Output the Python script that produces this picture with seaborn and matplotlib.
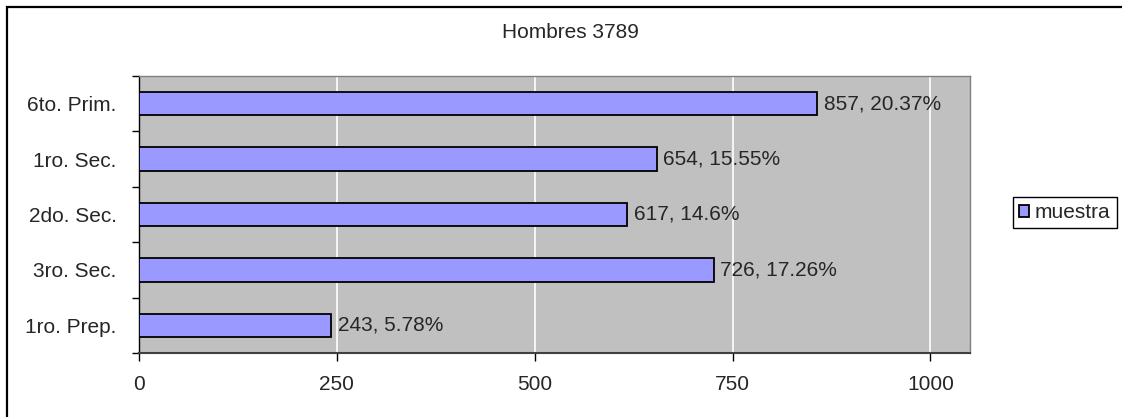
import matplotlib
matplotlib.use("Agg")
import matplotlib.pyplot as plt
from matplotlib.patches import Rectangle
import seaborn as sns
import pandas as pd

# Data
categories = ["6to. Prim.", "1ro. Sec.", "2do. Sec.", "3ro. Sec.", "1ro. Prep."]
counts = [857, 654, 617, 726, 243]
percents = ["20.37%", "15.55%", "14.6%", "17.26%", "5.78%"]
x_ticks = [0, 250, 500, 750, 1000]
title = "Hombres 3789"
series_name = "muestra"

sns.set_style("white")
plt.rcParams['font.family'] = ['Liberation Sans', 'DejaVu Sans']
plt.rcParams['font.size'] = 15

W, H = 1122, 417
fig = plt.figure(figsize=(W / 100, H / 100), dpi=100)
ax = fig.add_axes([139 / W, 1 - 353 / H, (970 - 139) / W, (353 - 76) / H])

df = pd.DataFrame({'Nivel': categories, 'Cantidad': counts})
sns.barplot(data=df, x='Cantidad', y='Nivel', orient='h', color="#9999FF",
            saturation=1, width=0.42, edgecolor='black', linewidth=1.3,
            label=series_name, ax=ax, zorder=3)

ax.set_facecolor("#C0C0C0")
ax.set_xlim(0, 1050)
ax.set_ylim(len(categories) - 0.5, -0.5)
ax.set_xticks(x_ticks)
ax.set_xticklabels([str(t) for t in x_ticks])
ax.grid(axis='x', color='white', linewidth=1.2, zorder=0)
ax.set_axisbelow(True)
ax.set_xlabel("")
ax.set_ylabel("")

# y ticks at category boundaries, labels at centers
ax.set_yticks(range(len(categories)))
ax.set_yticklabels(categories)
ax.set_yticks([i - 0.5 for i in range(len(categories) + 1)], minor=True)
ax.tick_params(axis='y', which='major', left=True, length=0, pad=16)
ax.tick_params(axis='y', which='minor', left=True, length=5, width=1, color='black', direction='out')
ax.tick_params(axis='x', which='major', bottom=True, length=6, width=1, color='black', direction='out', pad=10)

for side in ['top', 'right']:
    ax.spines[side].set_color('#808080')
    ax.spines[side].set_linewidth(1)
ax.spines['bottom'].set_color('#404040')
ax.spines['bottom'].set_linewidth(1.5)
ax.spines['left'].set_color('black')
ax.spines['left'].set_linewidth(1)

for i, (c, p) in enumerate(zip(counts, percents)):
    ax.annotate(f"{c}, {p}", xy=(c, i), xytext=(4.5, 0), textcoords='offset points',
                ha='left', va='center', fontsize=15, zorder=4)

fig.text(570 / W, 1 - 32 / H, title, ha='center', va='center', fontsize=15)

leg = ax.legend(loc='upper left', bbox_to_anchor=(1013 / W, 1 - 197 / H),
                bbox_transform=fig.transFigure, frameon=True, fancybox=False,
                edgecolor='black', framealpha=1, borderpad=0.3, borderaxespad=0,
                handlelength=0.45, handleheight=0.5, handletextpad=0.3, fontsize=15)
leg.get_frame().set_linewidth(1)

# chart area border (only top and left visible)
fig.patches.append(Rectangle((7 / W, -0.5), 2, 1 - 7 / H + 0.5, transform=fig.transFigure,
                             fill=False, edgecolor='black', linewidth=1.6))

fig.savefig("out.png", dpi=100)
